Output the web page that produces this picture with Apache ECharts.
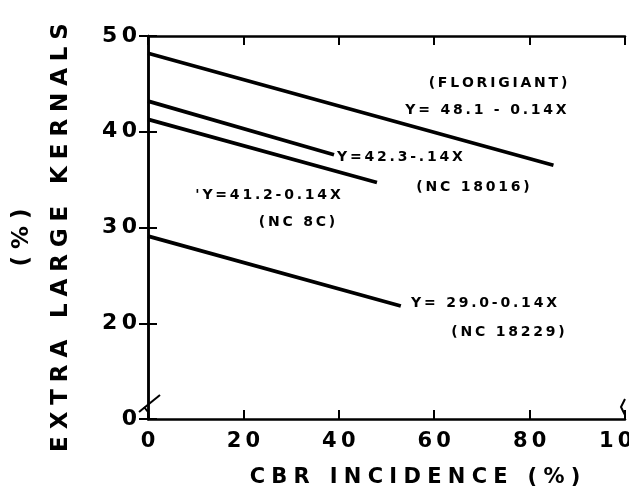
<!DOCTYPE html>
<html lang="en">
<head>
    <meta charset="UTF-8">
    <title>CBR incidence vs extra large kernals</title>
    <script src="https://cdn.jsdelivr.net/npm/echarts@6.0.0/dist/echarts.min.js"></script>
    <style>
        html, body { margin: 0; padding: 0; background: #fff; }
        #viz { width: 629px; height: 489px; }
    </style>
</head>
<body>
    <div id="viz"></div>
    <script>
        // values: [CBR incidence %, extra large kernals %]
        const florigiant = [[0, 48.2], [85, 36.5]];
        const nc18016 = [[0, 43.2], [39, 37.6]];
        const nc8c = [[0, 41.3], [48, 34.7]];
        const nc18229 = [[0, 29.1], [53, 21.8]];

        const xTicks = [0, 20, 40, 60, 80, 100];
        const yTicks = [10, 20, 30, 40, 50]; // 10 sits at the axis break and is shown as "0"

        const font = 'DejaVu Sans';
        const sp = (s, gap) => s.split('').join(gap || '\u2009');
        const wide = '\u2009\u200a';
        const getEle = id => document.getElementById(id);

        const lineSeries = (name, data) => ({
            name,
            type: 'line',
            data,
            symbol: 'none',
            silent: true,
            lineStyle: { color: '#000', width: 3.8 },
            xAxisIndex: 0,
            yAxisIndex: 0
        });

        const note = (text, x, y, align) => ({
            type: 'text',
            x, y,
            style: {
                text: sp(text),
                font: 'bold 14px "' + font + '"',
                fill: '#000',
                align: align || 'center',
                verticalAlign: 'middle'
            }
        });

        const stroke = (points) => ({
            type: 'polyline',
            shape: { points },
            style: { stroke: '#000', lineWidth: 2, fill: null }
        });

        const tick = { show: true, inside: true, length: 9, lineStyle: { color: '#000', width: 2 } };
        const axisLine = { show: true, lineStyle: { color: '#000', width: 2.5 } };

        const option = {
            animation: false,
            backgroundColor: '#fff',
            grid: { left: 148, right: 4, top: 36, bottom: 70, containLabel: false, outerBoundsMode: 'none' },
            xAxis: [{
                type: 'value',
                min: xTicks[0],
                max: xTicks[xTicks.length - 1],
                interval: 20,
                name: sp('CBR INCIDENCE (%)', wide),
                nameLocation: 'middle',
                nameGap: 48,
                nameTextStyle: {
                    fontFamily: font, fontWeight: 'bold', fontSize: 21, color: '#000',
                    padding: [0, 0, 0, 57]
                },
                axisLine,
                axisTick: tick,
                splitLine: { show: false },
                axisLabel: {
                    margin: 12,
                    fontFamily: font, fontWeight: 'bold', fontSize: 21, color: '#000',
                    formatter: v => sp(String(v))
                }
            }, {
                type: 'value',
                position: 'top',
                min: xTicks[0],
                max: xTicks[xTicks.length - 1],
                interval: 20,
                axisLine,
                axisTick: tick,
                axisLabel: { show: false },
                splitLine: { show: false }
            }],
            yAxis: [{
                type: 'value',
                min: yTicks[0],
                max: yTicks[yTicks.length - 1],
                interval: 10,
                name: sp('(%)', wide) + '\n' + sp('EXTRA LARGE KERNALS', wide),
                nameLocation: 'middle',
                nameRotate: 90,
                nameGap: 67,
                nameTextStyle: {
                    fontFamily: font, fontWeight: 'bold', fontSize: 23, color: '#000',
                    lineHeight: 39, padding: [0, 20, 0, 0]
                },
                axisLine,
                axisTick: tick,
                splitLine: { show: false },
                axisLabel: {
                    margin: 11,
                    fontFamily: font, fontWeight: 'bold', fontSize: 22, color: '#000',
                    formatter: v => sp(v === yTicks[0] ? '0' : String(v))
                }
            }, {
                type: 'value',
                position: 'right',
                min: yTicks[0],
                max: yTicks[yTicks.length - 1],
                interval: 10,
                axisLine,
                axisTick: tick,
                axisLabel: { show: false },
                splitLine: { show: false }
            }],
            graphic: [
                note('(FLORIGIANT)', 498, 83),
                note('Y= 48.1 - 0.14X', 486, 110),
                note('Y=42.3-.14X', 337, 157, 'left'),
                note('(NC 18016)', 473, 187),
                note('\'Y=41.2-0.14X', 268, 195),
                note('(NC 8C)', 297, 222),
                note('Y= 29.0-0.14X', 411, 303, 'left'),
                note('(NC 18229)', 508, 332),
                // axis break marks
                { type: 'rect', shape: { x: 145, y: 397, width: 6, height: 20 }, style: { fill: '#fff' } },
                stroke([[139, 412], [160, 395]]),
                stroke([[144, 407], [148, 412], [149, 419]]),
                { type: 'rect', shape: { x: 622, y: 399, width: 6, height: 16 }, style: { fill: '#fff' } },
                stroke([[625, 399], [621, 407], [625, 415]])
            ],
            series: [
                lineSeries('Florigiant', florigiant),
                lineSeries('NC 18016', nc18016),
                lineSeries('NC 8C', nc8c),
                lineSeries('NC 18229', nc18229)
            ]
        };

        const chart = echarts.init(getEle('viz'), null, { renderer: 'canvas' });
        chart.setOption(option);
        window.onresize = () => chart.resize();
    </script>
</body>
</html>
